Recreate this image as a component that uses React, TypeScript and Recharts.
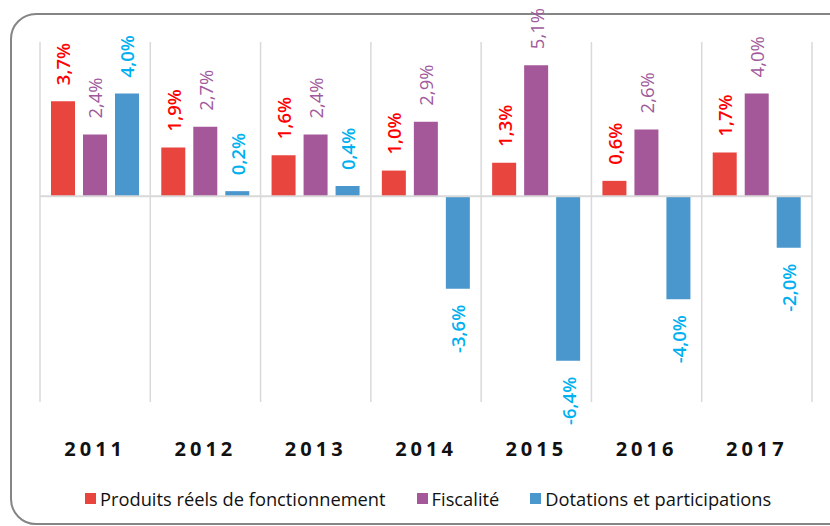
import React from 'react'
import { Bar, BarChart, CartesianGrid, LabelList, ReferenceLine, XAxis, YAxis } from 'recharts';

const years = ['2011', '2012', '2013', '2014', '2015', '2016', '2017'];
const produits = [3.7, 1.9, 1.6, 1.0, 1.3, 0.6, 1.7];
const fiscalite = [2.4, 2.7, 2.4, 2.9, 5.1, 2.6, 4.0];
const dotations = [4.0, 0.2, 0.4, -3.6, -6.4, -4.0, -2.0];

const seriesNames = ['Produits réels de fonctionnement', 'Fiscalité', 'Dotations et participations'];

const data = years.map((year, i) => ({
    year,
    produits: produits[i],
    fiscalite: fiscalite[i],
    dotations: dotations[i],
}));

const FONT = '"Open Sans", sans-serif';

const barColors = ['#e8453f', '#a45899', '#4a97ce'];

const fmt = (v: number) => v.toFixed(1).replace('.', ',') + '%';

const makeLabel = (color: string, weight: number) => (props: any) => {
    const { x, y, width, height, value } = props;
    const top = Math.min(y, y + height);
    const bottom = Math.max(y, y + height);
    const cx = x + width / 2;
    const neg = value < 0;
    const ly = neg ? bottom + 16 : top - 16;
    return (
        <text
            x={cx}
            y={ly}
            transform={`rotate(-90 ${cx} ${ly})`}
            textAnchor={neg ? 'end' : 'start'}
            dominantBaseline='central'
            fill={color}
            fontFamily={FONT}
            fontSize={18.5}
            fontWeight={weight}
        >
            {fmt(value)}
        </text>
    );
};

const YearTick = ({ x, y, payload }: any) => (
    <text x={x} y={y} dy={38} textAnchor='middle' dominantBaseline='central'
        fontFamily={FONT} fontSize={20} fontWeight={700} letterSpacing={4} fill='#111'>
        {payload.value}
    </text>
);

const App = () => {
    return (
        <div style={{ position: 'fixed', left: 0, top: 0, width: 830, height: 526, overflow: 'hidden', background: '#fff' }}>
            <div style={{
                position: 'absolute', left: 10, top: 13, width: 860, height: 512,
                border: '2px solid #858585', borderRadius: 26, boxSizing: 'border-box',
            }} />
            <div style={{ position: 'absolute', left: 0, top: 0 }}>
                <BarChart
                    width={830}
                    height={526}
                    data={data}
                    margin={{ top: 42, left: 40, right: 18, bottom: 94 }}
                    barSize={24}
                    barGap={8}
                >
                    <CartesianGrid
                        horizontal={false}
                        stroke='#d9d9d9'
                        strokeWidth={1.5}
                        verticalCoordinatesGenerator={({ offset }: any) =>
                            years.map((_, i) => offset.left + (i * offset.width) / years.length)
                                .concat([offset.left + offset.width])
                        }
                    />
                    <XAxis dataKey='year' axisLine={false} tickLine={false} tick={<YearTick />} interval={0} height={30} />
                    <YAxis hide domain={[-8, 6]} />
                    <ReferenceLine y={0} stroke='#d9d9d9' strokeWidth={2} />
                    <Bar dataKey='produits' fill={barColors[0]} isAnimationActive={false}>
                        <LabelList dataKey='produits' content={makeLabel('#ff0000', 600)} />
                    </Bar>
                    <Bar dataKey='fiscalite' fill={barColors[1]} isAnimationActive={false}>
                        <LabelList dataKey='fiscalite' content={makeLabel('#a05a9c', 400)} />
                    </Bar>
                    <Bar dataKey='dotations' fill={barColors[2]} isAnimationActive={false}>
                        <LabelList dataKey='dotations' content={makeLabel('#00b0f0', 600)} />
                    </Bar>
                </BarChart>
            </div>
            <div style={{
                position: 'absolute', left: 85, top: 486, display: 'flex',
                fontFamily: FONT, fontSize: 18.3, color: '#111', gap: 31,
            }}>
                {seriesNames.map((name, i) => (
                    <div key={name} style={{ display: 'flex', alignItems: 'center' }}>
                        <span style={{ width: 11, height: 11, background: barColors[i], marginRight: 4 }} />
                        <span>{name}</span>
                    </div>
                ))}
            </div>
        </div>
    );
};

export default App;
